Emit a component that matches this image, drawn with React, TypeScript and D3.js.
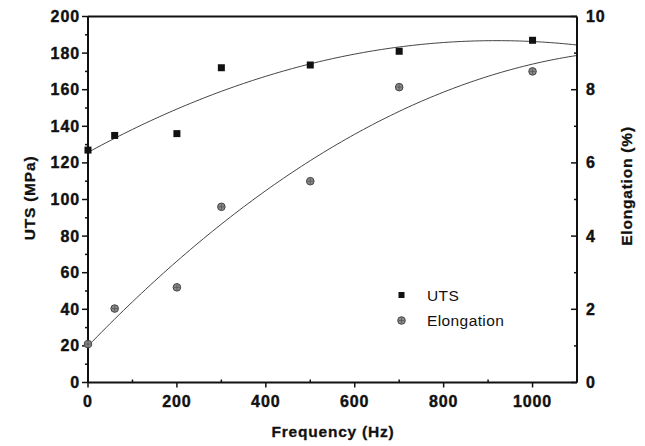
import { useEffect, useRef } from "react";
import * as d3 from "d3";

const frequency = [0, 60, 200, 300, 500, 700, 1000];
const uts = [127, 135, 136, 172, 173.5, 181, 187];
const elongation = [1.05, 2.02, 2.6, 4.8, 5.5, 8.07, 8.5];

const xTicks = [0, 200, 400, 600, 800, 1000];
const utsTicks = [0, 20, 40, 60, 80, 100, 120, 140, 160, 180, 200];
const elongTicks = [0, 2, 4, 6, 8, 10];

// least squares quadratic y = a + b x + c x^2
function quadFit(xs: number[], ys: number[]) {
  const s = [0, 0, 0, 0, 0];
  const t = [0, 0, 0];
  xs.forEach((x, i) => {
    for (let k = 0; k < 5; k++) s[k] += Math.pow(x, k);
    for (let k = 0; k < 3; k++) t[k] += ys[i] * Math.pow(x, k);
  });
  const m = [
    [s[0], s[1], s[2], t[0]],
    [s[1], s[2], s[3], t[1]],
    [s[2], s[3], s[4], t[2]],
  ];
  for (let i = 0; i < 3; i++) {
    for (let j = i + 1; j < 3; j++) {
      const f = m[j][i] / m[i][i];
      for (let k = i; k < 4; k++) m[j][k] -= f * m[i][k];
    }
  }
  const c = [0, 0, 0];
  for (let i = 2; i >= 0; i--) {
    let v = m[i][3];
    for (let k = i + 1; k < 3; k++) v -= m[i][k] * c[k];
    c[i] = v / m[i][i];
  }
  return (x: number) => c[0] + c[1] * x + c[2] * x * x;
}

function App() {
  const svgRef = useRef<SVGSVGElement>(null);

  useEffect(() => {
    const width = 645;
    const height = 446;
    const left = 88;
    const right = 577;
    const top = 16.5;
    const bottom = 382.5;
    const font = "'Liberation Sans', Arial, sans-serif";

    const svg = d3.select(svgRef.current);
    svg.selectAll("*").remove();
    svg.attr("width", width).attr("height", height);

    const x = d3.scaleLinear().domain([0, 1100]).range([left, right]);
    const yL = d3.scaleLinear().domain([0, 200]).range([bottom, top]);
    const yR = d3.scaleLinear().domain([0, 10]).range([bottom, top]);

    svg.append("rect").attr("width", width).attr("height", height).attr("fill", "#fff");

    // fitted curves
    const utsFit = quadFit(frequency, uts);
    const elFit = quadFit(frequency, elongation);
    const xs = d3.range(0, 1101, 10);
    const clip = svg.append("clipPath").attr("id", "plotclip");
    clip.append("rect").attr("x", left).attr("y", top).attr("width", right - left).attr("height", bottom - top);
    const curves = svg.append("g").attr("clip-path", "url(#plotclip)");
    curves
      .append("path")
      .attr("d", d3.line<number>().x((d) => x(d)).y((d) => yL(utsFit(d)))(xs))
      .attr("fill", "none")
      .attr("stroke", "#444")
      .attr("stroke-width", 1);
    curves
      .append("path")
      .attr("d", d3.line<number>().x((d) => x(d)).y((d) => yR(elFit(d)))(xs))
      .attr("fill", "none")
      .attr("stroke", "#444")
      .attr("stroke-width", 1);

    // frame
    const frame = svg.append("g").attr("stroke", "#111").attr("stroke-width", 2).attr("fill", "none");
    frame.append("line").attr("x1", left).attr("x2", right).attr("y1", bottom).attr("y2", bottom);
    frame.append("line").attr("x1", left).attr("x2", right).attr("y1", top).attr("y2", top);
    frame.append("line").attr("x1", left).attr("x2", left).attr("y1", top).attr("y2", bottom);
    frame.append("line").attr("x1", right).attr("x2", right).attr("y1", top).attr("y2", bottom);

    const ticks = svg.append("g").attr("stroke", "#111").attr("stroke-width", 1.5);
    // bottom
    d3.range(0, 1101, 100).forEach((v) => {
      const major = v % 200 === 0;
      ticks
        .append("line")
        .attr("x1", x(v)).attr("x2", x(v))
        .attr("y1", bottom).attr("y2", major ? bottom + 5 : bottom - 3);
    });
    // left
    d3.range(0, 201, 10).forEach((v) => {
      const major = v % 20 === 0;
      ticks
        .append("line")
        .attr("x1", left).attr("x2", left - (major ? 6 : 3))
        .attr("y1", yL(v)).attr("y2", yL(v));
    });
    // right
    d3.range(0, 11, 1).forEach((v) => {
      const major = v % 2 === 0;
      ticks
        .append("line")
        .attr("x1", right).attr("x2", right - (major ? 6 : 3))
        .attr("y1", yR(v)).attr("y2", yR(v));
    });

    const labelStyle = (s: d3.Selection<SVGTextElement, number, SVGGElement, unknown>) =>
      s
        .attr("font-family", font)
        .attr("font-weight", "bold")
        .attr("font-size", 16)
        .attr("letter-spacing", 0.9)
        .attr("fill", "#111")
        .attr("stroke", "#111")
        .attr("stroke-width", 0.4);

    svg.append("g").selectAll("text").data(xTicks).join("text")
      .call(labelStyle)
      .attr("x", (d) => x(d))
      .attr("y", 407)
      .attr("text-anchor", "middle")
      .text((d) => d);

    svg.append("g").selectAll("text").data(utsTicks).join("text")
      .call(labelStyle)
      .attr("x", 80)
      .attr("y", (d) => yL(d) + 5.5)
      .attr("text-anchor", "end")
      .text((d) => d);

    svg.append("g").selectAll("text").data(elongTicks).join("text")
      .call(labelStyle)
      .attr("x", 586)
      .attr("y", (d) => yR(d) + 5.5)
      .attr("text-anchor", "start")
      .text((d) => d);

    // axis titles
    const title = (t: string, tx: number, ty: number, rot: number) =>
      svg
        .append("text")
        .attr("transform", `translate(${tx},${ty}) rotate(${rot})`)
        .attr("text-anchor", "middle")
        .attr("font-family", font)
        .attr("font-weight", "bold")
        .attr("font-size", 15.5)
        .attr("letter-spacing", 0.8)
        .attr("fill", "#111")
        .attr("stroke", "#111")
        .attr("stroke-width", 0.3)
        .text(t);
    title("Frequency (Hz)", 333, 437, 0);
    title("UTS (MPa)", 35, 198, -90);
    title("Elongation (%)", 632, 186, -90);

    // markers
    const pts = svg.append("g");
    pts.selectAll("rect").data(frequency).join("rect")
      .attr("x", (d) => x(d) - 3.5)
      .attr("y", (d, i) => yL(uts[i]) - 3.5)
      .attr("width", 7)
      .attr("height", 7)
      .attr("fill", "#111");

    const drawCircle = (g: d3.Selection<SVGGElement, unknown, null, undefined>, cx: number, cy: number) => {
      g.append("circle").attr("cx", cx).attr("cy", cy).attr("r", 3.8)
        .attr("fill", "#8a8a8a").attr("stroke", "#444").attr("stroke-width", 1);
      g.append("line").attr("x1", cx - 3).attr("x2", cx + 3).attr("y1", cy).attr("y2", cy)
        .attr("stroke", "#555").attr("stroke-width", 0.8);
      g.append("line").attr("x1", cx).attr("x2", cx).attr("y1", cy - 3).attr("y2", cy + 3)
        .attr("stroke", "#555").attr("stroke-width", 0.8);
    };
    frequency.forEach((f, i) => drawCircle(pts as any, x(f), yR(elongation[i])));

    // legend
    const lg = svg.append("g");
    lg.append("rect").attr("x", 398.5).attr("y", 292).attr("width", 6).attr("height", 6).attr("fill", "#111");
    drawCircle(lg as any, 401.5, 320.5);
    lg.append("text").attr("x", 427).attr("y", 300.5)
      .attr("font-family", font).attr("font-size", 15.5).attr("letter-spacing", 0.4)
      .attr("fill", "#111").text("UTS");
    lg.append("text").attr("x", 427).attr("y", 326)
      .attr("font-family", font).attr("font-size", 15.5).attr("letter-spacing", 0.4)
      .attr("fill", "#111").text("Elongation");
  }, []);

  return (
    <div style={styles.wrap}>
      <svg ref={svgRef}></svg>
    </div>
  );
}

export default App;

const styles = {
  wrap: { position: "absolute" as const, left: 0, top: 0 },
};
